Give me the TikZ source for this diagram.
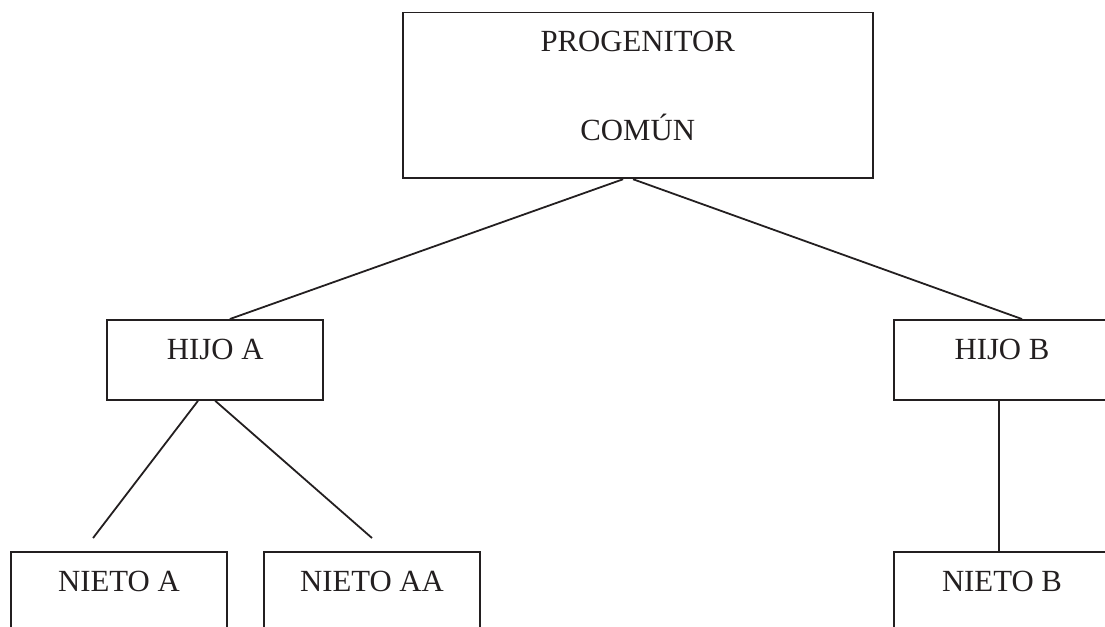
\documentclass[tikz,border=0pt]{standalone}
\usepackage{fontspec}
\setmainfont{Liberation Serif}
\usepackage{xcolor}
\usetikzlibrary{positioning}
\definecolor{inkblack}{HTML}{231F20}
\newcommand\boxwidth{2.961cm}
\newcommand\topwidth{6.442cm}
\newcommand\pagewidth{15.146}
\newcommand\pageheight{8.594}
\tikzset{
    familybox/.style = {draw=inkblack, line width=0.7pt, text=inkblack,
        font=\fontsize{12}{14.5}\selectfont, inner sep=0pt,
        minimum width=\boxwidth, text height=15.6pt, text depth=15.6pt, anchor=north},
    familyline/.style = {draw=inkblack, line width=0.7pt},
}

\begin{document}
\begin{tikzpicture}
         \path[use as bounding box, clip] (0,0) rectangle (\pagewidth,-\pageheight);
         % --- Progenitor
         \node[familybox, minimum width=\topwidth, text height=50.1pt, text depth=14.6pt, align=center] (progenitor) at (8.741,-0.158) {PROGENITOR\\[20.2pt]COMÚN};
         % --- Hijos
         \node[familybox] (hijoa) at (2.950,-4.373) {HIJO A};
         \node[familybox] (hijob) at (13.734,-4.373) {HIJO B};
         % --- Nietos
         \node[familybox] (nietoa) at (1.631,-7.553) {NIETO A};
         \node[familybox] (nietoaa) at (5.099,-7.553) {NIETO AA};
         \node[familybox] (nietob) at (13.734,-7.553) {NIETO B};
         % --- Free ends above the nietos of hijo A
         \coordinate (enda) at ([xshift=-0.356cm, yshift=0.178cm]nietoa.north);
         \coordinate (endaa) at ([yshift=0.178cm]nietoaa.north);
         % --- Lines
         \draw[familyline] ([xshift=-0.2cm]progenitor.south) -- ([xshift=0.2cm]hijoa.north);
         \draw[familyline] ([xshift=-0.064cm]progenitor.south) -- ([xshift=0.274cm]hijob.north);
         \draw[familyline] ([xshift=-0.236cm]hijoa.south) -- (enda);
         \draw[familyline] (hijoa.south) -- (endaa);
         \draw[familyline] ([xshift=-0.04cm]hijob.south) -- ([xshift=-0.04cm]nietob.north);
       \end{tikzpicture}
\end{document}
